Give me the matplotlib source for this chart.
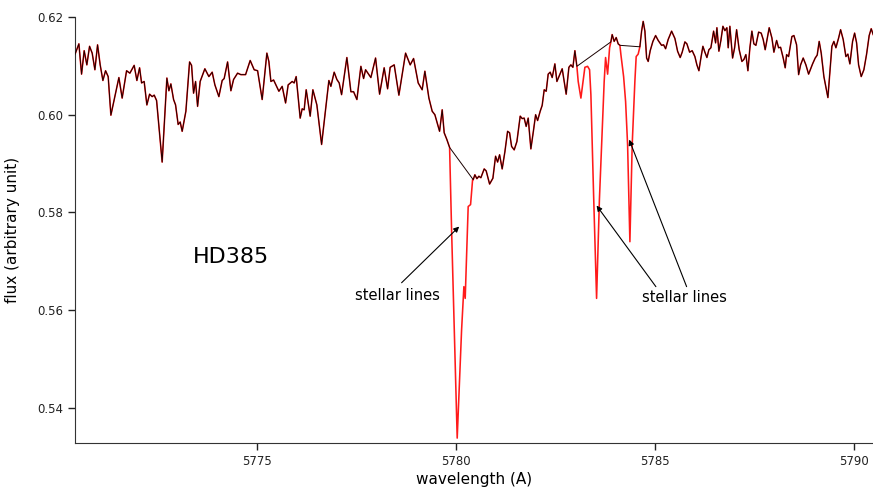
import numpy as np
import matplotlib
matplotlib.use('Agg')
import matplotlib.pyplot as plt

# spectrum (wavelength in A, flux in arbitrary units)
wave = [5770.427, 5770.528, 5770.595, 5770.661, 5770.728, 5770.796, 5770.862, 5770.930, 5770.997, 5771.063,
        5771.131, 5771.198, 5771.264, 5771.332, 5771.415, 5771.533, 5771.615, 5771.726, 5771.809, 5771.917,
        5771.985, 5772.053, 5772.103, 5772.168, 5772.236, 5772.304, 5772.369, 5772.420, 5772.480, 5772.620,
        5772.739, 5772.789, 5772.839, 5772.907, 5772.957, 5773.022, 5773.073, 5773.123, 5773.216, 5773.309,
        5773.359, 5773.409, 5773.460, 5773.510, 5773.575, 5773.693, 5773.794, 5773.877, 5773.945, 5774.045,
        5774.128, 5774.178, 5774.264, 5774.347, 5774.414, 5774.515, 5774.598, 5774.716, 5774.832, 5774.932,
        5775.018, 5775.133, 5775.251, 5775.301, 5775.352, 5775.420, 5775.553, 5775.636, 5775.721, 5775.786,
        5775.887, 5775.937, 5775.987, 5776.088, 5776.138, 5776.188, 5776.239, 5776.339, 5776.407, 5776.507,
        5776.626, 5776.709, 5776.809, 5776.859, 5776.942, 5777.010, 5777.068, 5777.128, 5777.261, 5777.362,
        5777.430, 5777.513, 5777.613, 5777.681, 5777.731, 5777.864, 5777.982, 5778.083, 5778.198, 5778.284,
        5778.349, 5778.450, 5778.568, 5778.736, 5778.852, 5778.937, 5779.053, 5779.153, 5779.221, 5779.322,
        5779.405, 5779.472, 5779.590, 5779.656, 5779.706, 5779.774, 5779.842, 5779.892, 5780.033, 5780.143,
        5780.201, 5780.234, 5780.309, 5780.369, 5780.420, 5780.435, 5780.477, 5780.528, 5780.578, 5780.628,
        5780.711, 5780.761, 5780.847, 5780.930, 5780.997, 5781.048, 5781.098, 5781.163, 5781.231, 5781.299,
        5781.349, 5781.400, 5781.465, 5781.533, 5781.616, 5781.666, 5781.716, 5781.766, 5781.817, 5781.884,
        5781.952, 5782.003, 5782.053, 5782.118, 5782.168, 5782.219, 5782.269, 5782.319, 5782.369, 5782.420,
        5782.487, 5782.538, 5782.588, 5782.671, 5782.771, 5782.839, 5782.889, 5782.940, 5782.990, 5783.040,
        5783.073, 5783.141, 5783.191, 5783.241, 5783.309, 5783.359, 5783.392, 5783.460, 5783.535, 5783.606,
        5783.661, 5783.726, 5783.761, 5783.812, 5783.862, 5783.894, 5783.927, 5783.977, 5784.028, 5784.078,
        5784.121, 5784.146, 5784.214, 5784.264, 5784.314, 5784.372, 5784.430, 5784.497, 5784.530, 5784.580,
        5784.623, 5784.666, 5784.706, 5784.749, 5784.792, 5784.832, 5784.882, 5784.950, 5785.018, 5785.083,
        5785.168, 5785.219, 5785.269, 5785.334, 5785.420, 5785.503, 5785.570, 5785.636, 5785.686, 5785.754,
        5785.804, 5785.872, 5785.937, 5786.005, 5786.055, 5786.106, 5786.156, 5786.206, 5786.256, 5786.307,
        5786.357, 5786.407, 5786.475, 5786.525, 5786.558, 5786.608, 5786.658, 5786.709, 5786.759, 5786.809,
        5786.842, 5786.884, 5786.952, 5787.003, 5787.053, 5787.118, 5787.186, 5787.236, 5787.286, 5787.337,
        5787.387, 5787.437, 5787.487, 5787.538, 5787.606, 5787.671, 5787.721, 5787.771, 5787.822, 5787.872,
        5787.940, 5787.990, 5788.058, 5788.108, 5788.158, 5788.224, 5788.274, 5788.309, 5788.359, 5788.442,
        5788.493, 5788.560, 5788.611, 5788.661, 5788.726, 5788.794, 5788.862, 5788.962, 5789.028, 5789.078,
        5789.128, 5789.179, 5789.246, 5789.347, 5789.397, 5789.447, 5789.497, 5789.548, 5789.616, 5789.666,
        5789.731, 5789.799, 5789.849, 5789.899, 5789.967, 5790.018, 5790.068, 5790.118, 5790.184, 5790.251,
        5790.319, 5790.384, 5790.435, 5790.485]

flux = [0.6123, 0.6145, 0.6083, 0.6131, 0.6102, 0.6140, 0.6126, 0.6092, 0.6143, 0.6102,
        0.6070, 0.6090, 0.6078, 0.5999, 0.6031, 0.6076, 0.6034, 0.6090, 0.6085, 0.6101,
        0.6070, 0.6096, 0.6065, 0.6068, 0.6020, 0.6042, 0.6037, 0.6040, 0.6029, 0.5903,
        0.6075, 0.6049, 0.6063, 0.6031, 0.6020, 0.5980, 0.5985, 0.5966, 0.6007, 0.6108,
        0.6101, 0.6044, 0.6068, 0.6017, 0.6068, 0.6094, 0.6078, 0.6087, 0.6061, 0.6037,
        0.6070, 0.6074, 0.6108, 0.6049, 0.6072, 0.6085, 0.6082, 0.6082, 0.6111, 0.6092,
        0.6090, 0.6031, 0.6126, 0.6109, 0.6068, 0.6071, 0.6048, 0.6058, 0.6024, 0.6061,
        0.6068, 0.6065, 0.6078, 0.5993, 0.6012, 0.6010, 0.6051, 0.5997, 0.6051, 0.6020,
        0.5939, 0.5999, 0.6070, 0.6058, 0.6087, 0.6072, 0.6065, 0.6041, 0.6117, 0.6047,
        0.6047, 0.6031, 0.6099, 0.6074, 0.6092, 0.6076, 0.6116, 0.6042, 0.6096, 0.6053,
        0.6097, 0.6102, 0.6040, 0.6126, 0.6102, 0.6115, 0.6065, 0.6051, 0.6089, 0.6034,
        0.6007, 0.6000, 0.5966, 0.6010, 0.5963, 0.5949, 0.5933, 0.5764, 0.5338, 0.5559,
        0.5648, 0.5624, 0.5812, 0.5816, 0.5867, 0.5867, 0.5877, 0.5869, 0.5874, 0.5871,
        0.5889, 0.5885, 0.5858, 0.5870, 0.5915, 0.5903, 0.5918, 0.5889, 0.5924, 0.5966,
        0.5963, 0.5935, 0.5928, 0.5945, 0.5997, 0.5992, 0.5993, 0.5976, 0.5993, 0.5930,
        0.5969, 0.6000, 0.5988, 0.6007, 0.6019, 0.6051, 0.6048, 0.6083, 0.6087, 0.6076,
        0.6104, 0.6068, 0.6078, 0.6094, 0.6042, 0.6097, 0.6102, 0.6097, 0.6131, 0.6099,
        0.6068, 0.6034, 0.6065, 0.6097, 0.6099, 0.6092, 0.6041, 0.5836, 0.5624, 0.5826,
        0.5939, 0.6068, 0.6117, 0.6083, 0.6137, 0.6149, 0.6164, 0.6150, 0.6158, 0.6145,
        0.6142, 0.6123, 0.6078, 0.6027, 0.5939, 0.5740, 0.5939, 0.6068, 0.6119, 0.6124,
        0.6139, 0.6171, 0.6191, 0.6171, 0.6116, 0.6109, 0.6131, 0.6150, 0.6162, 0.6152,
        0.6142, 0.6143, 0.6135, 0.6154, 0.6171, 0.6156, 0.6130, 0.6117, 0.6128, 0.6149,
        0.6145, 0.6128, 0.6131, 0.6119, 0.6102, 0.6090, 0.6116, 0.6140, 0.6128, 0.6117,
        0.6133, 0.6137, 0.6171, 0.6147, 0.6178, 0.6130, 0.6152, 0.6181, 0.6172, 0.6178,
        0.6137, 0.6181, 0.6116, 0.6137, 0.6174, 0.6133, 0.6109, 0.6113, 0.6123, 0.6090,
        0.6137, 0.6171, 0.6145, 0.6142, 0.6169, 0.6167, 0.6154, 0.6133, 0.6156, 0.6178,
        0.6157, 0.6128, 0.6152, 0.6137, 0.6138, 0.6116, 0.6096, 0.6123, 0.6119, 0.6160,
        0.6162, 0.6143, 0.6082, 0.6102, 0.6116, 0.6102, 0.6083, 0.6104, 0.6116, 0.6122,
        0.6150, 0.6126, 0.6078, 0.6035, 0.6089, 0.6140, 0.6150, 0.6137, 0.6157, 0.6174,
        0.6154, 0.6119, 0.6124, 0.6104, 0.6150, 0.6167, 0.6147, 0.6102, 0.6078, 0.6092,
        0.6124, 0.6162, 0.6176, 0.6164]

# stellar lines removed from the black (corrected) spectrum
stellar_windows = [(5779.87, 5780.43), (5783.06, 5783.89), (5784.14, 5784.62)]

wave = np.array(wave)
flux = np.array(flux)
keep = np.ones(len(wave), dtype=bool)
for lo, hi in stellar_windows:
    keep &= ~((wave > lo) & (wave < hi))

fig = plt.figure(figsize=(8.73, 4.91), dpi=100)
ax = fig.add_axes([0.0859, 0.0978, 0.9141, 0.8676])

ax.plot(wave, flux, color='#ff1a1a', lw=1.15, zorder=2)
ax.plot(wave[keep], flux[keep], color='#1a0000', lw=0.7, zorder=3)

ax.set_xlim(5770.43, 5790.48)
ax.set_ylim(0.5328, 0.62)
ax.set_xticks([5775, 5780, 5785, 5790])
ax.set_yticks([0.54, 0.56, 0.58, 0.60, 0.62])
ax.set_yticklabels(['0.54', '0.56', '0.58', '0.60', '0.62'])
ax.tick_params(direction='out', length=5, width=1, labelsize=8.5, colors='#222222')
ax.spines['top'].set_visible(False)
ax.spines['right'].set_visible(False)
ax.spines['left'].set_color('#333333')
ax.spines['bottom'].set_color('#333333')

ax.set_xlabel('wavelength (A)', fontsize=11, labelpad=3)
ax.set_ylabel('flux (arbitrary unit)', fontsize=11)
ax.yaxis.set_label_coords(-0.069, 0.5)

ax.text(5773.39, 0.5709, 'HD385', fontsize=16, ha='left', va='center')

arrow = dict(arrowstyle='-|>', color='black', lw=0.8, mutation_scale=8, shrinkA=0, shrinkB=0)
ax.text(5777.46, 0.5629, 'stellar lines', fontsize=10.5, ha='left', va='center')
ax.annotate('', xy=(5780.083, 0.5771), xytext=(5778.636, 0.5656), arrowprops=arrow)

ax.text(5784.666, 0.5626, 'stellar lines', fontsize=10.5, ha='left', va='center')
ax.annotate('', xy=(5783.535, 0.5814), xytext=(5785.025, 0.5648), arrowprops=arrow)
ax.annotate('', xy=(5784.354, 0.5949), xytext=(5785.797, 0.5648), arrowprops=arrow)

fig.savefig('out.png', dpi=100)
